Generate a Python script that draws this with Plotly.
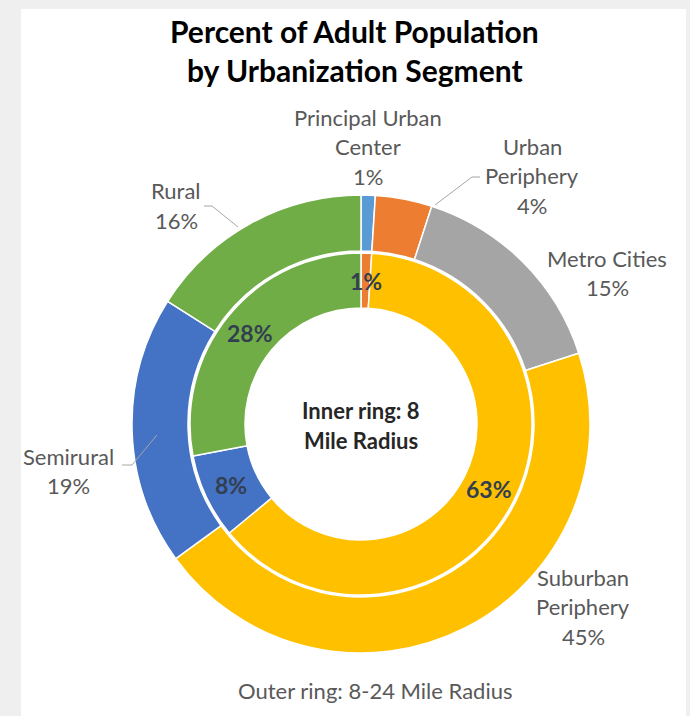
import math
import plotly.graph_objects as go

# Urbanization segments and their share of the adult population (%)
segments = ["Principal Urban Center", "Urban Periphery", "Metro Cities",
            "Suburban Periphery", "Semirural", "Rural"]
outer_pct = [1, 4, 15, 45, 19, 16]   # 8-24 mile radius
inner_pct = [0, 1, 0, 63, 8, 28]     # 8 mile radius
colors = ["#5B9BD5", "#ED7D31", "#A5A5A5", "#FFC000", "#4472C4", "#70AD47"]
outer_label_lines = [["Principal Urban", "Center"], ["Urban", "Periphery"],
                     ["Metro Cities"], ["Suburban", "Periphery"],
                     ["Semirural"], ["Rural"]]

title_lines = ["Percent of Adult Population", "by Urbanization Segment"]
center_lines = ["Inner ring: 8", "Mile Radius"]
footer_text = "Outer ring: 8-24 Mile Radius"

# ---- canvas geometry (pixels) ----
W, H = 690, 716
CX, CY = 361, 424
R_OUT, R_MID_OUT, R_MID_IN, R_IN = 229, 173, 171, 116
FONT = "Lato"
LABEL_GRAY = "#595959"
NAVY = "#333F50"


def px(x):
    return x / W


def py(y):
    return 1 - y / H


def domain(r):
    return dict(x=[px(CX - r), px(CX + r)], y=[py(CY + r), py(CY - r)])


inner_idx = [i for i, v in enumerate(inner_pct) if v > 0]

fig = go.Figure()
fig.add_trace(go.Pie(
    labels=segments, values=outer_pct, sort=False, direction="clockwise",
    rotation=0, hole=R_MID_OUT / R_OUT, domain=domain(R_OUT),
    marker=dict(colors=colors, line=dict(color="white", width=1.5)),
    textinfo="none", hoverinfo="label+percent", showlegend=False,
))
fig.add_trace(go.Pie(
    labels=[segments[i] for i in inner_idx],
    values=[inner_pct[i] for i in inner_idx],
    sort=False, direction="clockwise", rotation=0,
    hole=R_IN / R_MID_IN, domain=domain(R_MID_IN),
    marker=dict(colors=[colors[i] for i in inner_idx],
                line=dict(color="white", width=1.5)),
    textinfo="none", hoverinfo="label+percent", showlegend=False,
))

annotations = []


def add_text(x, y, text, size, color, bold=False):
    annotations.append(dict(
        x=px(x), y=py(y), xref="paper", yref="paper", showarrow=False,
        xanchor="center", yanchor="middle",
        text=f"<b>{text}</b>" if bold else text,
        font=dict(family=FONT, size=size, color=color)))


# title
for i, line in enumerate(title_lines):
    add_text(355, 31 + 39 * i, line, 30, "#000000", bold=True)

# outer ring labels: name lines followed by the percentage
outer_label_pos = [(368, 117), (532, 146), (607, 258), (583, 577), (68, 456), (176, 191)]
for (x0, y0), lines, v in zip(outer_label_pos, outer_label_lines, outer_pct):
    for j, line in enumerate(lines + [f"{v}%"]):
        add_text(x0, y0 + 29.7 * j, line, 22, LABEL_GRAY)

# inner ring value labels at slice mid-angles
total_inner = sum(inner_pct)
cum = 0
r_lab = (R_MID_IN + R_IN) / 2
for v in inner_pct:
    if v > 0:
        theta = 2 * math.pi * (cum + v / 2) / total_inner
        add_text(CX + r_lab * math.sin(theta), CY - r_lab * math.cos(theta),
                 f"{v}%", 23, NAVY, bold=True)
    cum += v

# centre caption and footer
for i, line in enumerate(center_lines):
    add_text(CX, 410 + 30 * i, line, 22, "#262626", bold=True)
add_text(375, 690, footer_text, 22, LABEL_GRAY)

# leader lines for the labels placed away from their slices
leaders = [
    [(435, 205), (472, 177), (480, 177)],   # Urban Periphery
    [(157, 435), (132, 465), (122, 465)],   # Semirural
    [(238, 227), (212, 206), (204, 206)],   # Rural
]
shapes = [dict(type="rect", xref="paper", yref="paper", layer="below",
               x0=px(21), x1=px(686), y0=py(716), y1=py(9),
               fillcolor="white", line=dict(width=0))]
for pts in leaders:
    for (x0, y0), (x1, y1) in zip(pts[:-1], pts[1:]):
        shapes.append(dict(type="line", xref="paper", yref="paper",
                           x0=px(x0), y0=py(y0), x1=px(x1), y1=py(y1),
                           line=dict(color="#A6A6A6", width=1)))

fig.update_layout(
    width=W, height=H, margin=dict(l=0, r=0, t=0, b=0),
    paper_bgcolor="#EFEFEF", plot_bgcolor="white",
    annotations=annotations, shapes=shapes, showlegend=False,
)

fig.write_html("out.html")
